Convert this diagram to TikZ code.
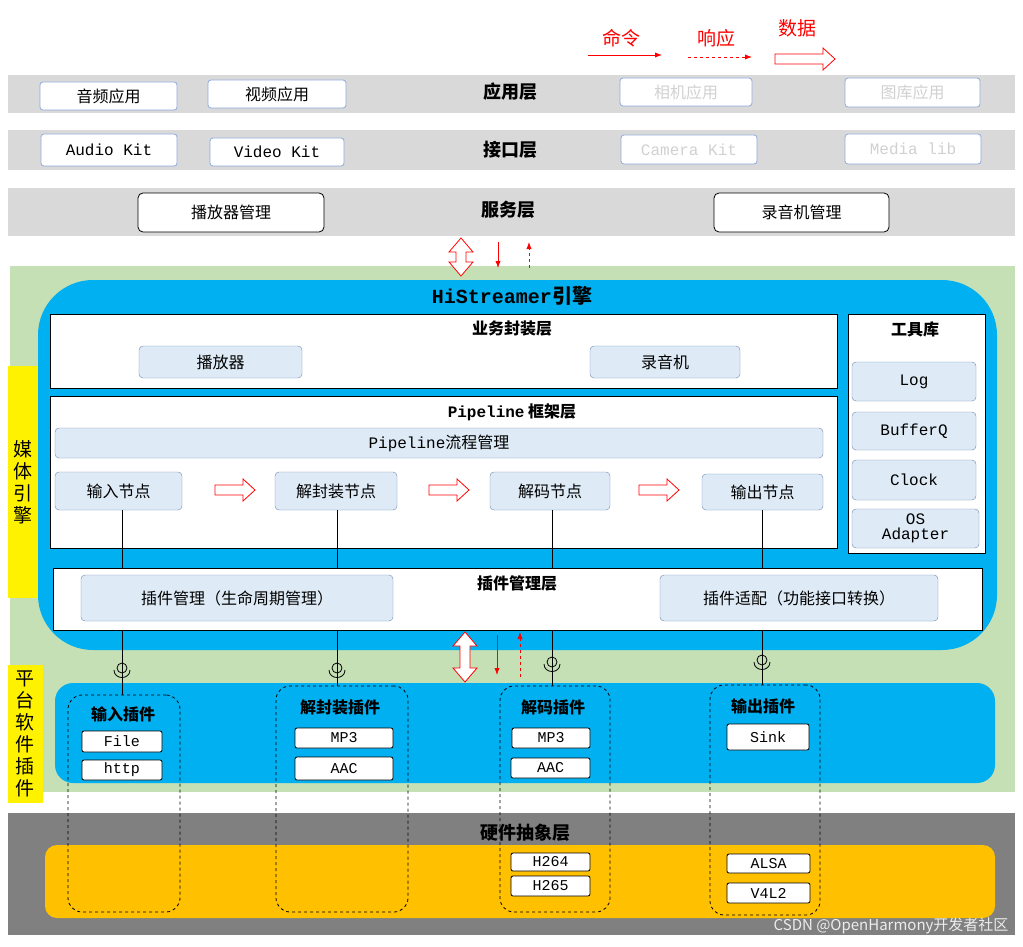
\documentclass[tikz,border=0pt]{standalone}
\usepackage{fontspec}
\setmainfont{Noto Sans CJK SC}
\newfontfamily\mono{Liberation Mono}
\usetikzlibrary{arrows.meta}
\definecolor{bandgray}{HTML}{D9D9D9}
\definecolor{engblue}{HTML}{00B0F0}
\definecolor{paleblue}{HTML}{DEEBF7}
\definecolor{bgreen}{HTML}{C5E0B4}
\definecolor{hwgray}{HTML}{808080}
\definecolor{hworange}{HTML}{FFC000}
\definecolor{kitline}{HTML}{8FAADC}
\tikzset{
  kit/.style={draw=kitline, fill=white, rounded corners=3pt, thick, font=\fontsize{16}{18}\selectfont},
  kitmono/.style={kit, font=\mono\fontsize{16}{18}\selectfont},
  faint/.style={text=black!18},
  svc/.style={draw=black, fill=white, rounded corners=5pt, thick, font=\fontsize{16}{18}\selectfont},
  layer/.style={draw=black, fill=white, thick},
  sub/.style={draw=kitline!80!black, fill=paleblue, rounded corners=4pt, font=\fontsize{16}{18}\selectfont},
  submono/.style={sub, font=\mono\fontsize{16}{18}\selectfont},
  plug/.style={draw=black, fill=white, rounded corners=2pt, thick, font=\mono\fontsize{15}{17}\selectfont},
  title/.style={font=\bfseries\fontsize{18}{20}\selectfont},
  gtitle/.style={font=\bfseries\fontsize{16}{18}\selectfont},
  group/.style={draw=black, dashed, thick, rounded corners=14pt},
  side/.style={fill=yellow, font=\fontsize{19}{22}\selectfont, align=center, inner sep=0pt},
  hollow/.style={draw=red, fill=white, thick},
  cmd/.style={red, thick, -{Latex[length=7pt]}},
  resp/.style={cmd, dashed}
}
% box from corner to corner
\newcommand\boxat[7]{\node[#1, minimum width={(#5-#3)*1pt}, minimum height={(#6-#4)*1pt}, inner sep=0pt] (#2) at ({(#3+#5)/2},{(#4+#6)/2}) {#7};}
\newcommand\socket[2]{%
  \draw[thick] (#1,#2) circle (5pt);
  \draw[thick] (#1-8,#2+2) .. controls (#1-8,#2+12) and (#1+8,#2+12) .. (#1+8,#2+2);}
% hollow right arrow: x, y, half length
\newcommand\rarrow[3]{\draw[hollow] (#1-#3,#2-5) -- (#1+#3-12,#2-5) -- (#1+#3-12,#2-11) -- (#1+#3,#2) -- (#1+#3-12,#2+11) -- (#1+#3-12,#2+5) -- (#1-#3,#2+5) -- cycle;}
% hollow vertical double arrow: x, y, half length
\newcommand\varrow[3]{\draw[hollow] (#1,#2-#3) -- (#1+12,#2-#3+14) -- (#1+5,#2-#3+14) -- (#1+5,#2+#3-14) -- (#1+12,#2+#3-14) -- (#1,#2+#3) -- (#1-12,#2+#3-14) -- (#1-5,#2+#3-14) -- (#1-5,#2-#3+14) -- (#1-12,#2-#3+14) -- cycle;}
\begin{document}
\begin{tikzpicture}[x=1pt,y=-1pt]
\useasboundingbox[fill=white] (0,0) rectangle (1023,947);
% legend
\node[red, font=\fontsize{19}{21}\selectfont] (lcmd) at (621,38) {命令};
\node[red, font=\fontsize{19}{21}\selectfont] (lresp) at (716,38) {响应};
\node[red, font=\fontsize{19}{21}\selectfont] (ldata) at (797,28) {数据};
\coordinate (c1) at (588,55); \coordinate (c2) at (662,55);
\coordinate (r1) at (688,57); \coordinate (r2) at (752,57);
\draw[cmd] (c1) -- (c2);
\draw[resp] (r1) -- (r2);
\rarrow{805}{59}{30}
% upper bands
\fill[bandgray] (8,75) rectangle (1015,113);
\fill[bandgray] (8,130) rectangle (1015,170);
\fill[bandgray] (8,188) rectangle (1015,236);
\node[title] (app) at (510,92) {应用层};
\node[title] (api) at (510,150) {接口层};
\node[title] (svc) at (508,210) {服务层};
\boxat{kit}{aapp}{40}{82}{177}{110}{音频应用}
\boxat{kit}{vapp}{208}{80}{346}{108}{视频应用}
\boxat{kit,faint}{capp}{620}{78}{752}{106}{相机应用}
\boxat{kit,faint}{gapp}{845}{78}{980}{107}{图库应用}
\boxat{kitmono}{akit}{41}{134}{177}{166}{Audio Kit}
\boxat{kitmono}{vkit}{210}{138}{344}{166}{Video Kit}
\boxat{kitmono,faint}{ckit}{621}{135}{757}{164}{Camera Kit}
\boxat{kitmono,faint}{mlib}{845}{134}{981}{164}{Media lib}
\boxat{svc}{pmgr}{138}{193}{324}{232}{播放器管理}
\boxat{svc}{rmgr}{714}{193}{889}{232}{录音机管理}
% engine background
\fill[bgreen] (10,266) rectangle (1015,792);
\varrow{461}{257}{19}
\coordinate (d1) at (498,242); \coordinate (d2) at (498,268);
\coordinate (u1) at (529,268); \coordinate (u2) at (529,242);
\draw[cmd] (d1) -- (d2);
\draw[resp] (u1) -- (u2);
\node[side, minimum width=30pt, minimum height=232pt] (sidemedia) at (23,482) {媒\\体\\引\\擎};
\node[side, minimum width=35pt, minimum height=138pt] (sideplat) at (25,734) {平\\台\\软\\件\\插\\件};
\node[side, minimum width=34pt, minimum height=120pt] (sidehw) at (25,875) {厂\\商\\硬\\插\\件};
\fill[engblue, rounded corners=55pt] (38,280) rectangle (997,650);
\node[font=\bfseries\fontsize{20}{22}\selectfont] (eng) at (512,296) {{\mono HiStreamer}引擎};
% business layer
\boxat{layer}{biz}{50}{314}{837}{388}{}
\node[gtitle] (biztitle) at (512,329) {业务封装层};
\boxat{sub}{player}{139}{346}{302}{378}{播放器}
\boxat{sub}{recorder}{590}{346}{740}{378}{录音机}
% tools
\boxat{layer}{tools}{848}{314}{985}{553}{}
\node[gtitle] (toolstitle) at (915,329) {工具库};
\boxat{submono}{log}{852}{362}{976}{401}{Log}
\boxat{submono}{bufq}{852}{412}{976}{450}{BufferQ}
\boxat{submono}{clock}{852}{460}{976}{500}{Clock}
\boxat{submono,align=center}{osad}{852}{509}{979}{548}{OS\\[-3pt]Adapter}
% pipeline
\boxat{layer}{pipe}{50}{396}{837}{548}{}
\node[gtitle] (pipetitle) at (512,412) {{\mono Pipeline} 框架层};
\boxat{sub}{flow}{55}{428}{823}{458}{{\mono Pipeline}流程管理}
\boxat{sub}{nin}{55}{472}{182}{510}{输入节点}
\boxat{sub}{ndemux}{275}{472}{397}{510}{解封装节点}
\boxat{sub}{ndec}{490}{472}{610}{510}{解码节点}
\boxat{sub}{nout}{702}{474}{823}{510}{输出节点}
\rarrow{235}{490}{20}
\rarrow{449}{490}{20}
\rarrow{659}{490}{20}
% sockets and links
\coordinate (s1) at (122,668); \coordinate (s2) at (337,668);
\coordinate (s3) at (552,662); \coordinate (s4) at (762,660);
\draw[thick] (nin.south -| s1) -- ([yshift=-5pt]s1);
\draw[thick] (ndemux.south -| s2) -- ([yshift=-5pt]s2);
\draw[thick] (ndec.south -| s3) -- ([yshift=-5pt]s3);
\draw[thick] (nout.south -| s4) -- ([yshift=-5pt]s4);
% plugin management
\boxat{layer}{pmlayer}{53}{568}{982}{630}{}
\node[gtitle] (pmtitle) at (517,583) {插件管理层};
\boxat{sub}{pmlife}{81}{575}{393}{621}{插件管理（生命周期管理）}
\boxat{sub}{pmadapt}{660}{575}{938}{621}{插件适配（功能接口转换）}
\draw[thick] (pmlayer.south -| s1) -- ([yshift=-5pt]s1);
\draw[thick] (pmlayer.south -| s2) -- ([yshift=-5pt]s2);
\draw[thick] (pmlayer.south -| s3) -- ([yshift=-5pt]s3);
\draw[thick] (pmlayer.south -| s4) -- ([yshift=-5pt]s4);
\varrow{465}{657}{25}
\coordinate (d3) at (497,635); \coordinate (d4) at (497,675);
\coordinate (u3) at (520,677); \coordinate (u4) at (520,632);
\draw[cmd] (d3) -- (d4);
\draw[resp] (u3) -- (u4);
% platform plugins
\fill[engblue, rounded corners=18pt] (55,683) rectangle (995,783);
\socket{122}{668}
\socket{337}{668}
\socket{552}{662}
\socket{762}{660}
\draw[thick] ([yshift=10pt]s1) -- (122,695);
\draw[thick] ([yshift=10pt]s2) -- (337,686);
\draw[thick] ([yshift=10pt]s3) -- (552,686);
\draw[thick] ([yshift=10pt]s4) -- (762,685);
% hardware
\fill[hwgray] (8,813) rectangle (1015,935);
\node[title] (hal) at (525,833) {硬件抽象层};
\fill[hworange, rounded corners=12pt] (45,845) rectangle (995,918);
% plugin groups
\boxat{group}{gin}{68}{695}{180}{912}{}
\boxat{group}{gdemux}{276}{686}{408}{912}{}
\boxat{group}{gdec}{500}{686}{610}{912}{}
\boxat{group}{gout}{710}{685}{820}{915}{}
\node[gtitle] (tin) at (123,714) {输入插件};
\node[gtitle] (tdemux) at (340,707) {解封装插件};
\node[gtitle] (tdec) at (553,707) {解码插件};
\node[gtitle] (tout) at (763,706) {输出插件};
\boxat{plug}{pfile}{82}{731}{162}{752}{File}
\boxat{plug}{phttp}{82}{760}{162}{780}{http}
\boxat{plug}{pmp3a}{295}{728}{393}{748}{MP3}
\boxat{plug}{paaca}{295}{757}{393}{780}{AAC}
\boxat{plug}{pmp3b}{512}{728}{590}{748}{MP3}
\boxat{plug}{paacb}{511}{758}{590}{778}{AAC}
\boxat{plug}{psink}{727}{724}{809}{750}{Sink}
\boxat{plug}{ph264}{511}{853}{590}{871}{H264}
\boxat{plug}{ph265}{511}{876}{590}{896}{H265}
\boxat{plug}{palsa}{727}{854}{810}{873}{ALSA}
\boxat{plug}{pv4l2}{727}{883}{810}{903}{V4L2}
\node[white!85!gray, font=\fontsize{15}{17}\selectfont, anchor=east] (mark) at (1012,926) {CSDN @OpenHarmony开发者社区};
\end{tikzpicture}
\end{document}
